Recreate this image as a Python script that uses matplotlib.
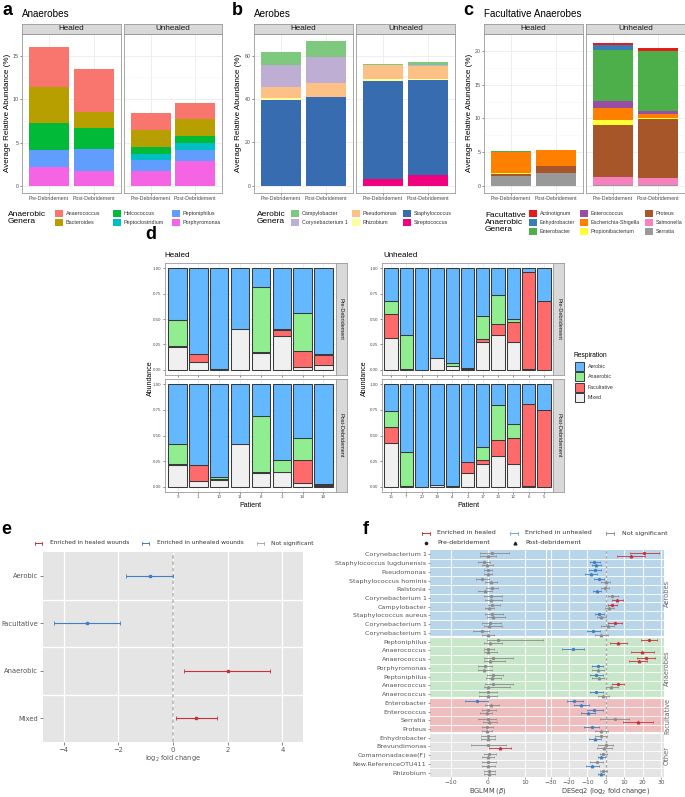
import matplotlib
matplotlib.use('Agg')
import matplotlib.pyplot as plt
from matplotlib.patches import Rectangle
import numpy as np

W, H = 685, 797
SANS = 'Liberation Sans'
DJ = 'DejaVu Sans'

# ---------------- data: panel a (Anaerobes) ----------------
stack_cols = ['Healed Pre', 'Healed Post', 'Unhealed Pre', 'Unhealed Post']
x_labels = ['Pre-Debridement', 'Post-Debridement']
facets = ['Healed', 'Unhealed']

anaer_genera = ['Anaerococcus', 'Bacteroides', 'Helcococcus', 'Peptoclostridium',
                'Peptoniphilus', 'Porphyromonas']
anaer_colors = ['#F8766D', '#B79F00', '#00BA38', '#00BFC4', '#619CFF', '#F564E3']
anaerococcus = [4.65, 4.93, 1.91, 1.85]
bacteroides = [4.15, 1.87, 2.03, 1.95]
helcococcus = [3.15, 2.45, 0.79, 0.87]
peptoclostridium = [0.0, 0.0, 0.68, 0.82]
peptoniphilus = [1.90, 2.48, 1.20, 1.20]
porphyromonas = [2.20, 1.77, 1.77, 2.90]

# ---------------- data: panel b (Aerobes) ----------------
aer_genera = ['Campylobacter', 'Corynebacterium 1', 'Pseudomonas', 'Rhizobium',
              'Staphylococcus', 'Streptococcus']
aer_colors = ['#7FC97F', '#BEAED4', '#FDC086', '#FFFF99', '#386CB0', '#F0027F']
campylobacter = [6.2, 7.5, 0.5, 1.2]
corynebacterium = [9.9, 11.7, 0.3, 0.6]
pseudomonas = [5.1, 6.4, 6.2, 6.0]
rhizobium = [0.8, 0.3, 1.1, 0.45]
staphylococcus = [39.7, 40.8, 45.3, 43.55]
streptococcus = [0.0, 0.0, 3.0, 5.2]

# ---------------- data: panel c (Facultative) ----------------
fac_genera = ['Actinotignum', 'Enhydrobacter', 'Enterobacter', 'Enterococcus',
              'Escherichia-Shigella', 'Propionibacterium', 'Proteus', 'Salmonella', 'Serratia']
fac_colors = ['#E41A1C', '#377EB8', '#4DAF4A', '#984EA3', '#FF7F00', '#FFFF33',
              '#A65628', '#F781BF', '#999999']
actinotignum = [0.02, 0.05, 0.30, 0.49]
enhydrobacter = [0.0, 0.0, 0.60, 0.0]
enterobacter = [0.25, 0.0, 7.60, 8.82]
enterococcus = [0.0, 0.0, 1.02, 0.53]
escherichia = [3.05, 2.35, 1.88, 0.60]
propionibacterium = [0.10, 0.05, 0.64, 0.10]
proteus = [0.30, 0.93, 7.73, 8.67]
salmonella = [0.05, 0.0, 1.13, 1.03]
serratia = [1.45, 1.97, 0.20, 0.20]

# ---------------- data: panel d (Respiration per patient) ----------------
resp_levels = ['Aerobic', 'Anaerobic', 'Facultative', 'Mixed']
resp_colors = ['#63B8FF', '#90EE90', '#FF6A6A', '#F0F0F0']
healed_patients = ['9', '1', '10', '11', '8', '3', '14', '18']
unhealed_patients = ['15', '7', '20', '19', '4', '2', '17', '13', '12', '6', '5']

h_pre_mixed = [0.225, 0.074, 0.005, 0.405, 0.162, 0.337, 0.026, 0.049]
h_pre_fac = [0.005, 0.081, 0.005, 0.0, 0.016, 0.058, 0.158, 0.097]
h_pre_anaer = [0.260, 0.0, 0.0, 0.0, 0.634, 0.005, 0.376, 0.013]
h_pre_aer = [0.510, 0.845, 0.990, 0.595, 0.188, 0.600, 0.440, 0.841]

h_post_mixed = [0.214, 0.058, 0.071, 0.417, 0.133, 0.146, 0.036, 0.013]
h_post_fac = [0.009, 0.152, 0.010, 0.0, 0.013, 0.003, 0.224, 0.010]
h_post_anaer = [0.191, 0.0, 0.019, 0.0, 0.544, 0.111, 0.216, 0.003]
h_post_aer = [0.586, 0.790, 0.900, 0.583, 0.310, 0.740, 0.524, 0.974]

u_pre_mixed = [0.315, 0.005, 0.0, 0.117, 0.039, 0.005, 0.273, 0.341, 0.273, 0.005, 0.0]
u_pre_fac = [0.237, 0.008, 0.0, 0.0, 0.0, 0.010, 0.027, 0.110, 0.201, 0.953, 0.679]
u_pre_anaer = [0.120, 0.334, 0.0, 0.0, 0.026, 0.0, 0.232, 0.283, 0.029, 0.0, 0.0]
u_pre_aer = [0.328, 0.653, 1.0, 0.883, 0.935, 0.985, 0.468, 0.266, 0.497, 0.042, 0.321]

u_post_mixed = [0.427, 0.005, 0.003, 0.015, 0.010, 0.133, 0.220, 0.301, 0.220, 0.005, 0.0]
u_post_fac = [0.159, 0.008, 0.0, 0.0, 0.0, 0.107, 0.039, 0.152, 0.256, 0.801, 0.750]
u_post_anaer = [0.152, 0.327, 0.0, 0.0, 0.0, 0.0, 0.129, 0.340, 0.136, 0.0, 0.0]
u_post_aer = [0.262, 0.660, 0.997, 0.985, 0.990, 0.760, 0.612, 0.207, 0.388, 0.194, 0.250]

# ---------------- data: panel e ----------------
e_cats = ['Aerobic', 'Facultative', 'Anaerobic', 'Mixed']
e_lfc = [-0.85, -3.15, 2.0, 0.85]
e_lo = [-1.70, -4.35, 0.40, 0.10]
e_hi = [0.0, -1.95, 3.55, 1.60]
e_sig = ['U', 'U', 'H', 'H']

# ---------------- data: panel f ----------------
f_genera = ['Corynebacterium 1', 'Staphylococcus lugdunensis', 'Pseudomonas',
            'Staphylococcus hominis', 'Ralstonia', 'Corynebacterium 1', 'Campylobacter',
            'Staphylococcus aureus', 'Corynebacterium 1', 'Corynebacterium 1',
            'Peptoniphilus', 'Anaerococcus', 'Anaerococcus', 'Porphyromonas', 'Peptoniphilus',
            'Anaerococcus', 'Anaerococcus',
            'Enterobacter', 'Enterococcus', 'Serratia', 'Proteus',
            'Enhydrobacter', 'Brevundimonas', 'Comamonadaceae(F)', 'New.ReferenceOTU411',
            'Rhizobium']
f_groups = ['Aerobes'] * 10 + ['Anaerobes'] * 7 + ['Facultative'] * 4 + ['Other'] * 5
group_colors = {'Aerobes': '#B9D5EA', 'Anaerobes': '#C8E6C9',
                'Facultative': '#EEBDBE', 'Other': '#E4E4E4'}

bg_pre = [1.0, -1.1, 0.0, -1.6, 1.0, 0.9, 1.2, 1.0, 0.5, -1.5,
          2.8, 0.1, 1.4, -0.8, 1.4, 1.4, 0.0,
          -3.0, 0.0, -0.1, -0.3,
          0.0, -0.1, 0.4, 0.1, 0.3]
bg_pre_lo = [-2.1, -2.6, -1.2, -3.2, -0.5, -1.0, 0.0, -0.8, -1.5, -4.0,
             -0.3, -1.2, -1.2, -2.6, -0.4, -0.8, -2.3,
             -6.2, -1.7, -2.6, -1.7,
             -2.0, -4.5, -1.0, -1.5, -1.2]
bg_pre_hi = [5.5, 0.5, 1.2, 0.2, 2.8, 3.7, 3.2, 4.1, 3.5, 0.3,
             14.6, 1.5, 6.8, 1.2, 3.9, 6.8, 2.5,
             0.0, 2.1, 2.1, 1.3,
             1.8, 4.9, 2.1, 2.1, 2.0]
bg_pre_sig = 'NNNNNNNNNNNNNNNNNUNNNNNNNN'

bg_post = [0.0, -0.2, 0.0, 0.7, -0.8, 0.8, 0.4, 1.4, 0.4, 0.0,
           0.5, 0.0, 0.5, -1.0, 1.0, 0.1, 0.0,
           0.8, -0.3, 0.4, -0.3,
           0.0, 3.2, 0.0, 0.0, 0.2]
bg_post_lo = [-2.1, -1.7, -1.2, -0.7, -2.6, -0.8, -0.8, -0.4, -1.2, -1.7,
              -1.0, -1.2, -1.0, -2.8, -0.5, -1.2, -2.3,
              -0.8, -2.1, -1.4, -1.5,
              -2.0, 0.3, -1.5, -1.6, -1.1]
bg_post_hi = [2.2, 1.4, 1.2, 2.3, 1.0, 3.7, 1.5, 4.5, 3.7, 1.6,
              3.7, 2.3, 4.6, 1.0, 3.4, 5.9, 2.5,
              3.0, 1.2, 2.3, 1.0,
              1.8, 6.2, 1.5, 2.0, 1.8]
bg_post_sig = 'NNNNNNNNNNNNNNNNNNNNNNHNNN'

ds_pre = [20.9, -6.4, -5.8, -3.6, -0.5, 3.6, 3.5, -3.8, 4.9, -6.9,
          23.5, -17.8, 21.8, -4.4, -5.1, 6.4, -5.3,
          -17.1, -6.2, 4.9, -7.8,
          -2.9, -0.2, -1.5, -4.7, -1.5]
ds_pre_lo = [13.1, -8.4, -8.9, -6.4, -2.7, 0.9, 1.3, -6.0, 1.3, -10.5,
             19.1, -23.8, 16.7, -7.5, -8.4, 3.1, -8.7,
             -21.1, -10.2, -3.3, -11.8,
             -6.0, -4.2, -3.3, -8.7, -3.3]
ds_pre_hi = [29.1, -3.3, -2.7, -0.9, 1.6, 6.4, 6.2, -1.1, 8.5, -3.3,
             28.0, -11.8, 26.9, -1.5, -1.5, 10.0, -1.8,
             -12.7, -1.8, 12.7, -3.6,
             0.4, 4.0, 0.4, -1.5, 0.7]
ds_pre_sig = 'HUUUNNHUHUHUHUUHUUUNUNNNNN'

ds_post = [13.5, -5.1, -8.2, -0.2, -4.7, 6.2, 1.8, -2.7, 0.9, -2.4,
           6.7, 19.8, 17.8, -4.2, -4.0, 2.7, -1.5,
           -13.3, -9.5, 17.3, -2.7,
           -6.0, -0.9, -2.4, -7.3, -2.7]
ds_post_lo = [5.8, -7.3, -11.5, -2.4, -6.9, 3.5, -0.5, -4.7, -2.7, -6.0,
              2.2, 13.6, 12.7, -7.3, -7.3, 0.0, -4.2,
              -17.1, -13.3, 9.5, -6.0,
              -9.1, -4.7, -4.2, -10.9, -4.2]
ds_post_hi = [21.5, -2.7, -4.7, 2.2, -2.4, 9.1, 4.5, -0.2, 4.5, 1.3,
              11.3, 26.0, 22.5, -1.1, -0.9, 6.7, 1.8,
              -9.1, -6.0, 25.5, 1.3,
              -2.9, 3.1, -0.5, -3.6, -0.9]
ds_post_sig = 'HUUNUHNNNNHHHNNNNUUHNUNUUU'

SIG_COL = {'H': '#CC2F3B', 'U': '#3F7FC4', 'N': '#8C8C8C'}

# =====================================================================
fig = plt.figure(figsize=(W / 100, H / 100), dpi=100)


def add_ax(x0, y0, x1, y1, **kw):
    return fig.add_axes([x0 / W, 1 - y1 / H, (x1 - x0) / W, (y1 - y0) / H], **kw)


ov = fig.add_axes([0, 0, 1, 1], zorder=50)
ov.set_xlim(0, W)
ov.set_ylim(H, 0)
ov.axis('off')
ov.patch.set_alpha(0)


def T(x, y, s, size, family=SANS, **kw):
    ov.text(x, y, s, fontsize=size, family=family, **kw)


def strip(x0, y0, x1, y1, label, size, rot=0):
    s = add_ax(x0, y0, x1, y1)
    s.set_facecolor('#D9D9D9')
    s.set_xticks([])
    s.set_yticks([])
    for sp in s.spines.values():
        sp.set_color('#9a9a9a')
        sp.set_linewidth(0.6)
    s.text(0.5, 0.5, label, transform=s.transAxes, ha='center', va='center',
           fontsize=size, family=SANS, color='#1a1a1a', rotation=rot)


def stacked_panel(xs, genera, colors, series, ytop, yticks, title, letter, lx, tx, ylx):
    for fi, (x0, x1) in enumerate(xs):
        ax = add_ax(x0, 34, x1, 193)
        bottoms = np.zeros(2)
        for g, c, vals in reversed(list(zip(genera, colors, series))):
            v = np.array(vals[2 * fi:2 * fi + 2])
            ax.bar([1, 2], v, bottom=bottoms, width=0.9, color=c, edgecolor='none', zorder=3)
            bottoms += v
        ax.set_xlim(0.4, 2.6)
        ax.set_ylim(-0.05 * ytop, 1.05 * ytop)
        ax.set_yticks(yticks)
        ax.set_yticks([t + (yticks[1] - yticks[0]) / 2 for t in yticks], minor=True)
        ax.set_xticks([1, 2])
        ax.set_xticklabels(x_labels)
        ax.grid(True, which='major', color='#EBEBEB', lw=0.6, zorder=0)
        ax.grid(True, which='minor', axis='y', color='#F5F5F5', lw=0.4, zorder=0)
        ax.tick_params(which='minor', length=0)
        ax.tick_params(labelsize=3.8, length=1.5, width=0.4, color='#333333',
                       labelcolor='#4d4d4d', pad=1)
        for lab in ax.get_xticklabels() + ax.get_yticklabels():
            lab.set_family(SANS)
        if fi == 1:
            ax.set_yticklabels([])
            ax.tick_params(axis='y', length=0)
        for sp in ax.spines.values():
            sp.set_color('#9a9a9a')
            sp.set_linewidth(0.6)
        strip(x0, 24, x1, 34, facets[fi], 5.9)
    T(lx, 14.5, letter, 13, weight='bold', va='baseline')
    T(tx, 16.5, title, 7.1, va='baseline')
    T(ylx, 113, 'Average Relative Abundance (%)', 5.8, rotation=90, ha='center', va='center')


stacked_panel([(22, 121), (124, 222)], anaer_genera, anaer_colors,
              [anaerococcus, bacteroides, helcococcus, peptoclostridium, peptoniphilus, porphyromonas],
              16.05, [0, 5, 10, 15], 'Anaerobes', 'a', 3, 22, 8)
stacked_panel([(254, 353), (356, 455)], aer_genera, aer_colors,
              [campylobacter, corynebacterium, pseudomonas, rhizobium, staphylococcus, streptococcus],
              66.7, [0, 20, 40, 60], 'Aerobes', 'b', 232, 254, 239)
stacked_panel([(484, 583), (586, 685)], fac_genera, fac_colors,
              [actinotignum, enhydrobacter, enterobacter, enterococcus, escherichia,
               propionibacterium, proteus, salmonella, serratia],
              21.1, [0, 5, 10, 15, 20], 'Facultative Anaerobes', 'c', 463, 484, 470)


def legend_grid(title, tx, ty, names, colors, col_x, row_y):
    T(tx, ty, title, 6.0, va='center', linespacing=1.0)
    nrows = len(row_y)
    for i, (n, c) in enumerate(zip(names, colors)):
        cx = col_x[i // nrows]
        cy = row_y[i % nrows]
        ov.add_patch(Rectangle((cx, cy - 3.5), 8, 7, facecolor=c, edgecolor='none'))
        T(cx + 11, cy, n, 3.9, va='center', color='#333333')


legend_grid('Anaerobic\nGenera', 8, 217.5, anaer_genera, anaer_colors, [55, 113, 172], [213, 222])
legend_grid('Aerobic\nGenera', 257, 217.5, aer_genera, aer_colors, [291, 352, 403], [213, 222])
legend_grid('Facultative\nAnaerobic\nGenera', 485, 222, fac_genera, fac_colors, [529, 580, 645],
            [213, 222, 231])

# ---------------- panel d ----------------


def resp_panel(x0, x1, y0, y1, patients, mixed, fac, anaer, aer, strip_label, show_x):
    ax = add_ax(x0, y0, x1, y1)
    n = len(patients)
    pos = np.arange(1, n + 1)
    bottom = np.zeros(n)
    for vals, col in [(mixed, resp_colors[3]), (fac, resp_colors[2]),
                      (anaer, resp_colors[1]), (aer, resp_colors[0])]:
        v = np.array(vals)
        m = v > 0
        ax.bar(pos[m], v[m], bottom=bottom[m], width=0.88, color=col,
               edgecolor='#3a3a3a', linewidth=0.75, zorder=3)
        bottom += v
    ax.set_xlim(0.4, n + 0.6)
    ax.set_ylim(-0.05, 1.05)
    ax.set_yticks([0, 0.25, 0.5, 0.75, 1.0])
    ax.set_yticklabels(['0.00', '0.25', '0.50', '0.75', '1.00'])
    ax.set_xticks(pos)
    ax.set_xticklabels(patients if show_x else [])
    ax.grid(True, color='#EBEBEB', lw=0.6, zorder=0)
    ax.tick_params(labelsize=3.2, length=1.5, width=0.4, color='#333333',
                   labelcolor='#4d4d4d', pad=1)
    for lab in ax.get_xticklabels() + ax.get_yticklabels():
        lab.set_family(SANS)
    for sp in ax.spines.values():
        sp.set_color('#9a9a9a')
        sp.set_linewidth(0.6)
    strip(x1, y0, x1 + 11, y1, strip_label, 4.0, rot=-90)
    return ax


resp_panel(165, 336, 263, 375, healed_patients, h_pre_mixed, h_pre_fac, h_pre_anaer, h_pre_aer,
           'Pre-Debridement', False)
resp_panel(165, 336, 379, 492, healed_patients, h_post_mixed, h_post_fac, h_post_anaer, h_post_aer,
           'Post-Debridement', True)
resp_panel(382, 553, 263, 375, unhealed_patients, u_pre_mixed, u_pre_fac, u_pre_anaer, u_pre_aer,
           'Pre-Debridement', False)
resp_panel(382, 553, 379, 492, unhealed_patients, u_post_mixed, u_post_fac, u_post_anaer,
           u_post_aer, 'Post-Debridement', True)
T(145, 239, 'd', 13, weight='bold', va='baseline')
T(164, 257, 'Healed', 5.8, va='baseline')
T(383, 257, 'Unhealed', 5.8, va='baseline')
T(250, 505, 'Patient', 5.0, ha='center', va='center')
T(468, 505, 'Patient', 5.0, ha='center', va='center')
T(150, 378, 'Abundance', 5.0, rotation=90, ha='center', va='center')
T(364, 378, 'Abundance', 5.0, rotation=90, ha='center', va='center')
T(574, 355, 'Respiration', 4.8, va='center')
for i, (lvl, col) in enumerate(zip(resp_levels, resp_colors)):
    cy = 366 + i * 10.6
    ov.add_patch(Rectangle((575, cy - 4.5), 9, 9, facecolor=col, edgecolor='#3a3a3a', lw=0.7))
    T(588, cy, lvl, 3.8, va='center', color='#333333')

# ---------------- panel e ----------------
ax_e = add_ax(43, 552, 303, 742)
ax_e.set_facecolor('#E5E5E5')
ypos = np.arange(1, len(e_cats) + 1)
for i in range(len(e_cats)):
    c = SIG_COL[e_sig[i]]
    ax_e.errorbar(e_lfc[i], ypos[i], xerr=[[e_lfc[i] - e_lo[i]], [e_hi[i] - e_lfc[i]]],
                  fmt='s', ms=2.0, color=c, ecolor=c, elinewidth=0.8, capsize=1.4,
                  capthick=0.6, zorder=4)
ax_e.axvline(0, ls=(0, (2, 1.5)), color='#BDBDBD', lw=1.3, zorder=2)
ax_e.set_xlim(-4.75, 4.75)
ax_e.set_ylim(4.5, 0.5)
ax_e.set_xticks([-4, -2, 0, 2, 4])
ax_e.set_yticks(ypos)
ax_e.set_yticklabels(e_cats)
ax_e.set_yticks([1.5, 2.5, 3.5], minor=True)
ax_e.grid(True, which='major', axis='x', color='white', lw=0.9, zorder=0)
ax_e.grid(True, which='minor', axis='y', color='white', lw=0.9, zorder=0)
ax_e.tick_params(which='minor', length=0)
ax_e.tick_params(labelsize=4.9, length=2, width=0.5, color='#555555', labelcolor='#555555', pad=1.5)
for sp in ax_e.spines.values():
    sp.set_visible(False)
ax_e.set_axisbelow(True)
T(173, 759, 'log$_2$ fold change', 4.8, family=DJ, ha='center', va='center', color='#555555')
T(1, 534, 'e', 13, weight='bold', va='baseline')


def err_icon(x, y, col, w=7):
    ov.plot([x, x + w], [y, y], color=col, lw=0.7)
    ov.plot([x, x], [y - 1.5, y + 1.5], color=col, lw=0.6)
    ov.plot([x + w, x + w], [y - 1.5, y + 1.5], color=col, lw=0.6)


err_icon(35, 543, SIG_COL['H'])
T(50, 543, 'Enriched in healed wounds', 4.2, family=DJ, va='center', color='#333333')
err_icon(142, 543, SIG_COL['U'])
T(157, 543, 'Enriched in unhealed wounds', 4.2, family=DJ, va='center', color='#333333')
err_icon(257, 543, '#AAAAAA')
T(271, 543, 'Not significant', 4.2, family=DJ, va='center', color='#333333')

# ---------------- panel f ----------------
nrow = len(f_genera)
rows = np.arange(nrow)
ax_l = add_ax(430, 550, 546, 777)
ax_r = add_ax(547, 550, 664, 777)
group_names = ['Aerobes', 'Anaerobes', 'Facultative', 'Other']
for ax, xl, xt in [(ax_l, (-15.5, 15.5), [-10, 0, 10]),
                   (ax_r, (-32, 31.6), [-30, -20, -10, 0, 10, 20, 30])]:
    ax.set_xlim(*xl)
    ax.set_ylim(nrow, 0)
    ax.set_xticks(xt)
    ax.set_xticklabels([('\u2212' + str(-t)) if t < 0 else str(t) for t in xt])
    for gname in group_names:
        idx = [i for i, g in enumerate(f_groups) if g == gname]
        ax.axhspan(min(idx), max(idx) + 1, color=group_colors[gname], zorder=0, lw=0)
    for xv in xt:
        ax.axvline(xv, color='white', lw=0.8, alpha=0.85, zorder=1)
    for b in range(1, nrow):
        thick = f_groups[b] != f_groups[b - 1]
        ax.axhline(b, color='white', lw=1.6 if thick else 0.6, zorder=1)
    for sp in ax.spines.values():
        sp.set_visible(False)
    ax.tick_params(labelsize=4.3, length=1.5, width=0.4, color='#555555',
                   labelcolor='#555555', pad=1)

ax_r.axvline(0, ls=(0, (2, 1.5)), color='#A9A9A9', lw=1.0, zorder=2)


def draw_ci(ax, est, lo, hi, sig, off, marker, ms):
    for i in range(nrow):
        c = SIG_COL[sig[i]]
        y = rows[i] + off
        ax.errorbar(est[i], y, xerr=[[est[i] - lo[i]], [hi[i] - est[i]]], fmt=marker, ms=ms,
                    color=c, ecolor=c, elinewidth=0.6, capsize=1.0, capthick=0.5, zorder=4)


draw_ci(ax_l, bg_pre, bg_pre_lo, bg_pre_hi, bg_pre_sig, 0.32, 'o', 1.4)
draw_ci(ax_l, bg_post, bg_post_lo, bg_post_hi, bg_post_sig, 0.70, '^', 1.8)
draw_ci(ax_r, ds_pre, ds_pre_lo, ds_pre_hi, ds_pre_sig, 0.32, 'o', 1.4)
draw_ci(ax_r, ds_post, ds_post_lo, ds_post_hi, ds_post_sig, 0.70, '^', 1.8)

ax_l.set_yticks(rows + 0.5)
ax_l.set_yticklabels(f_genera)
ax_l.tick_params(axis='y', labelsize=4.6)
ax_r.set_yticks([])
for gname in group_names:
    idx = [i for i, g in enumerate(f_groups) if g == gname]
    ax_r.text(1.025, (min(idx) + max(idx) + 1) / 2, gname, transform=ax_r.get_yaxis_transform(),
              rotation=90, ha='center', va='center', fontsize=4.8, color='#666666', family=DJ)

T(488, 791, 'BGLMM ($\\beta$)', 4.8, family=DJ, ha='center', va='center', color='#444444')
T(606, 791, 'DESeq2 (log$_2$ fold change)', 4.8, family=DJ, ha='center', va='center',
  color='#444444')
T(363, 534, 'f', 13, weight='bold', va='baseline')
err_icon(422, 533, SIG_COL['H'], 8)
T(437, 533, 'Enriched in healed', 4.5, family=DJ, va='center', color='#333333')
err_icon(510, 533, '#6FA8DC', 8)
T(525, 533, 'Enriched in unhealed', 4.5, family=DJ, va='center', color='#333333')
err_icon(606, 533, '#8C8C8C', 8)
T(622, 533, 'Not significant', 4.5, family=DJ, va='center', color='#333333')
ov.plot([426], [543], marker='o', ms=1.6, color='#222222', ls='none')
T(437, 543, 'Pre-debridement', 4.5, family=DJ, va='center', color='#333333')
ov.plot([515], [543], marker='^', ms=2.0, color='#222222', ls='none')
T(525, 543, 'Post-debridement', 4.5, family=DJ, va='center', color='#333333')

fig.savefig('out.png', dpi=100)
